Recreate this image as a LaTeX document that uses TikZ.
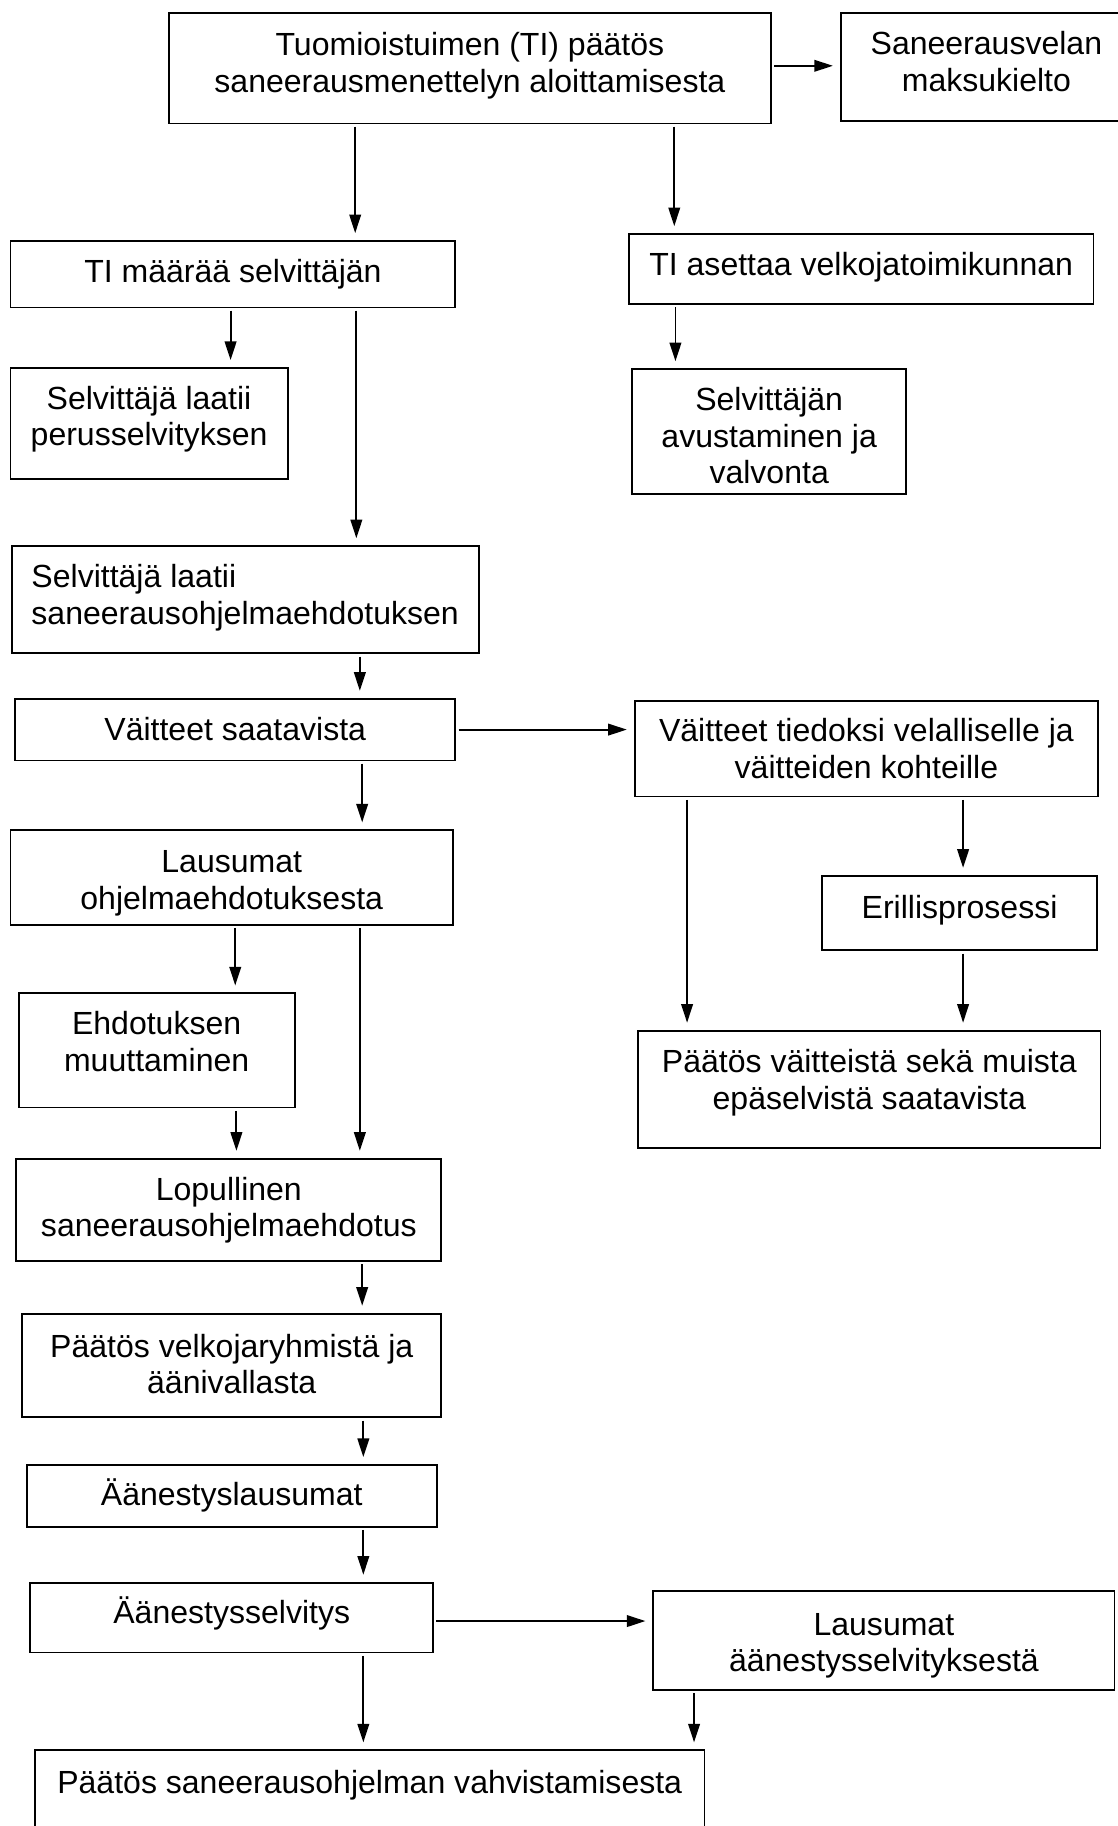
\documentclass[tikz,border=0pt]{standalone}
\usepackage{fontspec}
\setmainfont{Liberation Sans}
\usetikzlibrary{arrows.meta}
\tikzset{
  box/.style={draw, line width=1.6pt, align=center, inner sep=0pt,
    font=\fontsize{27.5}{31.5}\selectfont},
  arr/.style={line width=1.6pt, -{Triangle[length=16pt,width=10pt]},
    shorten >=6pt, shorten <=2pt}
}

\begin{document}
\begin{tikzpicture}[x=1pt, y=-1pt]
			%%%%% START %%%%%
			\useasboundingbox (0, 0) rectangle (960, 1568);
			
			\node[box, minimum width=517, minimum height=95] (start) at (403.5, 58.5) {Tuomioistuimen (TI) päätös\\saneerausmenettelyn aloittamisesta\\[-21.5pt]};
			\node[box, minimum width=250, minimum height=93] (kielto) at (847, 57.5) {Saneerausvelan\\maksukielto\\[-22.5pt]};
			
			\node[box, minimum width=382, minimum height=57] (selvittaja) at (200, 235.5) {TI määrää selvittäjän\\[-25.5pt]};
			\node[box, minimum width=399, minimum height=60] (toimikunta) at (739.5, 231) {TI asettaa velkojatoimikunnan\\[-23.5pt]};
			
			\node[box, minimum width=238, minimum height=95] (perus) at (128, 363.5) {Selvittäjä laatii\\perusselvityksen\\[-19pt]};
			\node[box, minimum width=235, minimum height=107] (valvonta) at (660.5, 370.5) {Selvittäjän\\avustaminen ja\\valvonta\\[-38.5pt]};
			
			\node[box, minimum width=401, minimum height=92, align=left] (ehdotus) at (210.5, 515) {Selvittäjä laatii\\saneerausohjelmaehdotuksen\\[-22pt]};
			
			\node[box, minimum width=378, minimum height=53] (vaitteet) at (202, 626.5) {Väitteet saatavista\\[-29.5pt]};
			\node[box, minimum width=398, minimum height=82] (tiedoksi) at (744, 643) {Väitteet tiedoksi velalliselle ja\\väitteiden kohteille};
			
			\node[box, minimum width=380, minimum height=81] (lausumat) at (199, 753.5) {Lausumat\\ohjelmaehdotuksesta\\[-35.5pt]};
			\node[box, minimum width=236, minimum height=64] (erillinen) at (824, 784) {Erillisprosessi\\[-21.5pt]};
			
			\node[box, minimum width=237, minimum height=98] (muutos) at (134.5, 902) {Ehdotuksen\\muuttaminen\\[-16pt]};
			\node[box, minimum width=397, minimum height=101] (paatosv) at (746.5, 935.5) {Päätös väitteistä sekä muista\\epäselvistä saatavista\\[-14pt]};
			
			\node[box, minimum width=365, minimum height=88] (lopullinen) at (196.5, 1039) {Lopullinen\\saneerausohjelmaehdotus\\[-26pt]};
			\node[box, minimum width=360, minimum height=89] (ryhmat) at (199, 1172.5) {Päätös velkojaryhmistä ja\\äänivallasta\\[-29pt]};
			\node[box, minimum width=352, minimum height=53] (aanlaus) at (199, 1284.5) {Äänestyslausumat};
			\node[box, minimum width=346, minimum height=60] (aanselv) at (199, 1389) {Äänestysselvitys\\[-18pt]};
			\node[box, minimum width=396, minimum height=85] (aanlausumat) at (759, 1408.5) {Lausumat\\äänestysselvityksestä\\[-35.5pt]};
			
			\node[box, minimum width=575, minimum height=90] (vahvistus) at (317.5, 1548) {Päätös saneerausohjelman vahvistamisesta\\[4pt]};
			
			%% connectors
			\draw[arr] (start.east) ++(0, -2) coordinate (s1) -- (kielto.west |- s1);
			\draw[arr] (305,0 |- start.south) -- (305,0 |- selvittaja.north);
			\draw[arr] (579,0 |- start.south) -- (579,0 |- toimikunta.north);
			
			\draw[arr] (198,0 |- selvittaja.south) -- (198,0 |- perus.north);
			\draw[arr] (306,0 |- selvittaja.south) -- (306,0 |- ehdotus.north);
			\draw[arr] (580,0 |- toimikunta.south) -- (580,0 |- valvonta.north);
			
			\draw[arr] (309,0 |- ehdotus.south) -- (309,0 |- vaitteet.north);
			\draw[arr] (vaitteet.east) -- (tiedoksi.west |- vaitteet.east);
			\draw[arr] (311,0 |- vaitteet.south) -- (311,0 |- lausumat.north);
			
			\draw[arr] (590,0 |- tiedoksi.south) -- (590,0 |- paatosv.north);
			\draw[arr] (827,0 |- tiedoksi.south) -- (827,0 |- erillinen.north);
			\draw[arr] (827,0 |- erillinen.south) -- (827,0 |- paatosv.north);
			
			\draw[arr] (202,0 |- lausumat.south) -- (202,0 |- muutos.north);
			\draw[arr] (309,0 |- lausumat.south) -- (309,0 |- lopullinen.north);
			\draw[arr] (203,0 |- muutos.south) -- (203,0 |- lopullinen.north);
			
			\draw[arr] (311,0 |- lopullinen.south) -- (311,0 |- ryhmat.north);
			\draw[arr] (312,0 |- ryhmat.south) -- (312,0 |- aanlaus.north);
			\draw[arr] (312,0 |- aanlaus.south) -- (312,0 |- aanselv.north);
			
			\draw[arr] (aanselv.east) ++(0, 3) coordinate (s2) -- (aanlausumat.west |- s2);
			\draw[arr] (312,0 |- aanselv.south) -- (312,0 |- vahvistus.north);
			\draw[arr] (596,0 |- aanlausumat.south) -- (596,0 |- vahvistus.north);
			%%%%% END %%%%%
\end{tikzpicture}
\end{document}
